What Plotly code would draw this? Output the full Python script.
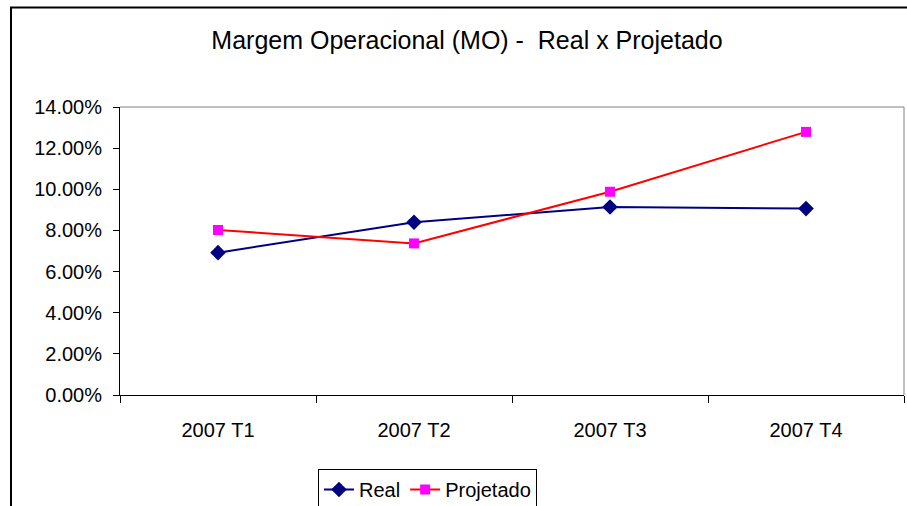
import plotly.graph_objects as go

categories = ["2007 T1", "2007 T2", "2007 T3", "2007 T4"]
real = [0.0692, 0.0840, 0.0914, 0.0906]
projetado = [0.0802, 0.0737, 0.0988, 0.1279]
title_text = "Margem Operacional (MO) -  Real x Projetado"

FONT = "Liberation Sans, Arial, sans-serif"

fig = go.Figure()
fig.add_trace(go.Scatter(
    x=categories, y=real, name="Real", mode="lines+markers",
    line=dict(color="#000080", width=2),
    marker=dict(symbol="diamond", size=12, color="#000080"),
))
fig.add_trace(go.Scatter(
    x=categories, y=projetado, name="Projetado", mode="lines+markers",
    line=dict(color="#FF0000", width=2),
    marker=dict(symbol="square", size=10, color="#FF00FF"),
))

W, H = 907, 506
L, R, T, B = 120, 904, 107, 395

def px_x(p):
    return (p - L) / (R - L)

def px_y(p):
    return (B - p) / (B - T)

fig.update_layout(
    width=W, height=H,
    margin=dict(l=L, r=W - R, t=T, b=H - B, pad=0, autoexpand=False),
    paper_bgcolor="white", plot_bgcolor="white",
    font=dict(family=FONT, color="black", size=20),
    title=dict(text=title_text, x=467 / W, xanchor="center", xref="container",
               y=1 - 40 / H, yanchor="middle", yref="container",
               font=dict(size=25, family=FONT, color="black")),
    showlegend=True,
    legend=dict(orientation="h", x=px_x(318), xanchor="left", y=px_y(469), yanchor="top",
                bordercolor="black", borderwidth=1, bgcolor="white",
                font=dict(size=20, family=FONT), itemwidth=30,
                tracegroupgap=0),
    xaxis=dict(type="category", showline=True, linecolor="black", linewidth=1,
               ticks="outside", ticklen=7, tickcolor="black", tickson="boundaries",
               showgrid=False, zeroline=False, range=[-0.5, 3.5],
               tickfont=dict(size=20), ticklabelstandoff=17),
    yaxis=dict(range=[0, 0.14], dtick=0.02, tickformat=".2%", showline=True,
               linecolor="black", linewidth=1, ticks="outside", ticklen=6,
               tickcolor="black", showgrid=False, zeroline=False,
               tickfont=dict(size=20), ticklabelstandoff=7),
    shapes=[
        dict(type="line", xref="paper", yref="paper", x0=0, x1=1, y0=1, y1=1,
             line=dict(color="#808080", width=1)),
        dict(type="line", xref="paper", yref="paper", x0=1, x1=1, y0=0, y1=1,
             line=dict(color="#808080", width=1)),
        dict(type="rect", xref="paper", yref="paper",
             x0=px_x(11), x1=px_x(915), y0=px_y(7.5), y1=px_y(530),
             line=dict(color="black", width=2), layer="below"),
    ],
)

fig.write_html("out.html", config={"displayModeBar": False},
               post_script="document.body.style.margin='0';")
